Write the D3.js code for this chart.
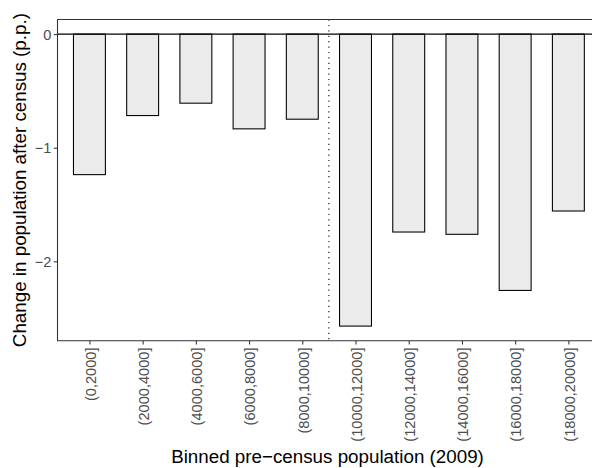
<!DOCTYPE html>
<html>
<head>
<meta charset="utf-8">
<script src="https://cdn.jsdelivr.net/npm/d3@7"></script>
<style>
  body { margin: 0; background: #fff; overflow: hidden; }
  svg { display: block; font-family: "Liberation Sans", Arial, sans-serif; }
</style>
</head>
<body>
<svg id="chart" width="592" height="468"></svg>
<script>
// binned pre-census population categories
const bins = [
  '(0,2000]', '(2000,4000]', '(4000,6000]', '(6000,8000]', '(8000,10000]',
  '(10000,12000]', '(12000,14000]', '(14000,16000]', '(16000,18000]', '(18000,20000]',
];
// change in population after census (p.p.)
const changes = [-1.237, -0.717, -0.608, -0.834, -0.749, -2.57, -1.742, -1.762, -2.256, -1.557];
const yTicks = [0, -1, -2];
const cutoffAfter = '(8000,10000]';

const data = bins.map((bin, i) => ({ bin, value: changes[i] }));

// the panel runs past the right edge of the picture, as in the original
const margin = { top: 19.5, right: -8.3, bottom: 127.3, left: 57.5 };
const width = 592 - margin.left - margin.right;
const height = 468 - margin.top - margin.bottom;

const svg = d3.select('#chart');
const chart = svg.append('g').attr('transform', `translate(${margin.left},${margin.top})`);

// ggplot-like expansion: 5% on the continuous axis, 0.6 units on the discrete one
const [vmin, vmax] = [d3.min(changes), 0];
const pad = (vmax - vmin) * 0.05;
const y = d3.scaleLinear().domain([vmin - pad, vmax + pad]).range([height, 0]);
const x = d3.scalePoint().domain(bins).range([0, width]).padding(0.6);
const barW = x.step() * 0.6;

chart.selectAll('.bar')
  .data(data)
  .join('rect')
  .attr('class', 'bar')
  .attr('x', (d) => x(d.bin) - barW / 2)
  .attr('y', y(0))
  .attr('width', barW)
  .attr('height', (d) => y(d.value) - y(0))
  .attr('fill', '#EBEBEB')
  .attr('stroke', '#000')
  .attr('stroke-width', 1.07);

// zero line
chart.append('line')
  .attr('x1', 0).attr('x2', width)
  .attr('y1', y(0)).attr('y2', y(0))
  .attr('stroke', '#000')
  .attr('stroke-width', 1.07);

// dotted cutoff line
const iCut = bins.indexOf(cutoffAfter);
const xCut = (x(bins[iCut]) + x(bins[iCut + 1])) / 2;
chart.append('line')
  .attr('x1', xCut).attr('x2', xCut)
  .attr('y1', 0).attr('y2', height)
  .attr('stroke', '#000')
  .attr('stroke-width', 1.07)
  .attr('stroke-dasharray', '1.2,4.2');

// panel border (top, left, bottom; the right side is off the picture)
chart.append('path')
  .attr('d', `M${width},0H0V${height}H${width}`)
  .attr('fill', 'none')
  .attr('stroke', '#333')
  .attr('stroke-width', 1.07);

// axes
const yAxis = chart.append('g')
  .call(d3.axisLeft(y).tickValues(yTicks).tickSize(3.7).tickPadding(2.5)
    .tickFormat((d) => d3.format('d')(d).replace('-', '\u2212')));
const xAxis = chart.append('g')
  .attr('transform', `translate(0,${height})`)
  .call(d3.axisBottom(x).tickSize(3.7).tickPadding(3));

[yAxis, xAxis].forEach((g) => {
  g.attr('font-family', '"Liberation Sans", Arial, sans-serif').attr('font-size', null);
  g.select('.domain').remove();
  g.selectAll('.tick line').attr('stroke', '#333').attr('stroke-width', 1.07);
  g.selectAll('.tick text').attr('fill', '#4D4D4D').style('font-size', '14.6px');
});

yAxis.selectAll('.tick text').attr('dy', '0.36em');

xAxis.selectAll('.tick text')
  .attr('transform', 'rotate(-90)')
  .attr('text-anchor', 'end')
  .attr('x', -6.8)
  .attr('y', 0)
  .attr('dy', '0.4em');

// axis titles
svg.append('text')
  .attr('x', 327.5)
  .attr('y', 462.7)
  .attr('text-anchor', 'middle')
  .style('font-size', '18.8px')
  .text('Binned pre\u2212census population (2009)');

svg.append('text')
  .attr('transform', `translate(26,${margin.top + height / 2}) rotate(-90)`)
  .attr('text-anchor', 'middle')
  .style('font-size', '18.8px')
  .text('Change in population after census (p.p.)');
</script>
</body>
</html>
